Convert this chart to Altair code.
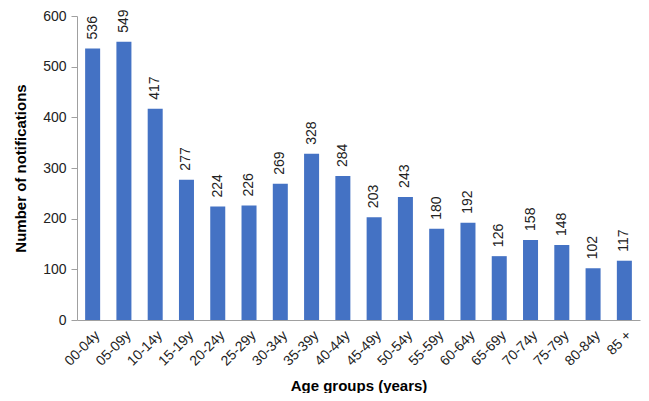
import altair as alt
import pandas as pd

ages = ["00-04y", "05-09y", "10-14y", "15-19y", "20-24y", "25-29y", "30-34y", "35-39y",
        "40-44y", "45-49y", "50-54y", "55-59y", "60-64y", "65-69y", "70-74y", "75-79y",
        "80-84y", "85 +"]
counts = [536, 549, 417, 277, 224, 226, 269, 328, 284, 203, 243, 180, 192, 126, 158, 148, 102, 117]

df = pd.DataFrame({"age": ages, "n": counts})

FONT = "Liberation Sans"

x = alt.X("age:N", sort=ages, title="Age groups (years)",
          scale=alt.Scale(paddingInner=0.52, paddingOuter=0.26),
          axis=alt.Axis(labelAngle=-45, labelAlign="right", labelBaseline="top",
                        ticks=False, labelPadding=8, labelFontSize=14, labelColor="#222222",
                        titleFontSize=15, titleFontWeight="bold", titlePadding=10,
                        domainColor="#a0a0a0", titleColor="#000000"))
y = alt.Y("n:Q", title="Number of notifications",
          scale=alt.Scale(domain=[0, 600]),
          axis=alt.Axis(values=[0, 100, 200, 300, 400, 500, 600], grid=False,
                        tickSize=6, tickColor="#a0a0a0", domainColor="#a0a0a0",
                        labelFontSize=14, labelColor="#222222", labelPadding=5,
                        titleFontSize=15, titleFontWeight="bold", titlePadding=14,
                        titleColor="#000000"))

bars = alt.Chart(df).mark_bar(color="#4472C4").encode(x=x, y=y)
labels = alt.Chart(df).mark_text(angle=270, align="left", baseline="middle", dx=9,
                                 fontSize=14, color="#222222", font=FONT).encode(
    x=alt.X("age:N", sort=ages), y="n:Q", text="n:Q")

chart = (bars + labels).properties(
    width=563, height=304,
    autosize=alt.AutoSizeParams(type="none"),
    padding={"left": 69, "top": 8, "right": 1, "bottom": 73},
).configure(font=FONT).configure_view(stroke=None)

chart.save("out.html", embed_options={"renderer": "svg", "actions": False})
